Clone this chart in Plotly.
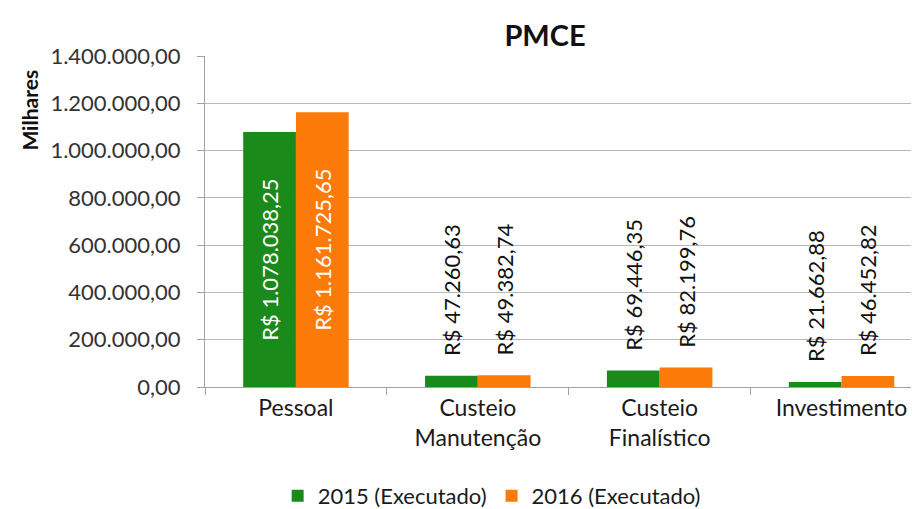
import plotly.graph_objects as go

categories = ["Pessoal", "Custeio<br>Manutenção", "Custeio<br>Finalístico", "Investimento"]
series_names = ["2015 (Executado)", "2016 (Executado)"]
values_2015 = [1078038.25, 47260.63, 69446.35, 21662.88]
values_2016 = [1161725.65, 49382.74, 82199.76, 46452.82]
colors = ["#1a8a1a", "#fb7a08"]
y_ticks = [0, 200000, 400000, 600000, 800000, 1000000, 1200000, 1400000]

FONT = "Lato, Carlito, 'Liberation Sans', sans-serif"
big_threshold = 500000
NB = "\u00a0"

fig = go.Figure()
for name, vals, col in [(series_names[0], values_2015, colors[0]), (series_names[1], values_2016, colors[1])]:
    inside = [v > big_threshold for v in vals]
    fig.add_trace(go.Bar(
        x=categories, y=vals, name=name, marker=dict(color=col, line=dict(width=0)),
        texttemplate=["R$ %{y:,.2f}" if i else NB * 3 + "R$ %{y:,.2f}" for i in inside],
        textposition=["inside" if i else "outside" for i in inside], textangle=-90,
        insidetextanchor="middle",
        textfont=dict(family=FONT, size=22, color=["white" if i else "#111" for i in inside]),
        constraintext="none", cliponaxis=False,
    ))

fig.update_layout(
    width=919, height=509,
    separators=",.",
    barmode="group", bargap=0.42, bargroupgap=0,
    plot_bgcolor="white", paper_bgcolor="white",
    margin=dict(l=197, r=0, t=48, b=127),
    font=dict(family=FONT, size=22, color="#222"),
    title=dict(text="<b>PMCE</b>", x=537 / 919, xref="container", xanchor="center",
               y=1 - 28 / 509, yref="container", yanchor="middle",
               font=dict(size=29, color="#111", family=FONT)),
    legend=dict(orientation="h", x=0.397, xanchor="center", y=-0.329, yanchor="middle",
                font=dict(size=22, color="#1a1a1a", family=FONT), itemwidth=30,
                traceorder="normal"),
    yaxis=dict(range=[0, 1400000], tickvals=y_ticks, tickformat=",.2f",
               showgrid=True, gridcolor="#b8b8b8", gridwidth=1,
               showline=True, linecolor="#a0a0a0", ticks="outside", ticklen=7,
               ticklabelstandoff=12,
               tickcolor="#a0a0a0", tickfont=dict(size=22, color="#333"), zeroline=False),
    xaxis=dict(range=[-0.5, 3.47], showline=True, linecolor="#a0a0a0", ticks="outside",
               tickson="boundaries", ticklen=7, tickcolor="#a0a0a0",
               tickfont=dict(size=23, color="#1a1a1a")),
    annotations=[dict(text="<b>Milhares</b>", textangle=-90, xref="paper", yref="paper",
                      x=-0.2424, y=0.838, showarrow=False, xanchor="center", yanchor="middle",
                      font=dict(size=21, color="#111", family=FONT))],
)

fig.write_html("out.html")
